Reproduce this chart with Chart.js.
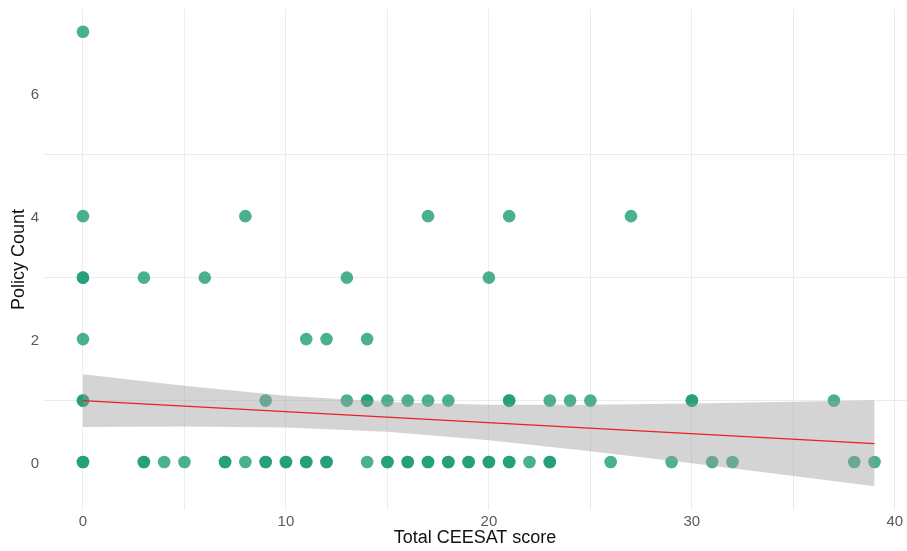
<!DOCTYPE html>
<html>
<head>
<meta charset="utf-8">
<title>Policy Count vs Total CEESAT score</title>
<script src="https://cdn.jsdelivr.net/npm/chart.js@4/dist/chart.umd.min.js"></script>
<style>
  html, body { margin: 0; padding: 0; background: #ffffff; }
  #wrap { width: 907px; height: 551px; position: relative; }
</style>
</head>
<body>
<div id="wrap"><canvas id="chart"></canvas></div>
<script>
// Observations grouped by policy count: each entry is one jurisdiction's CEESAT score
const scoresPolicy0 = [0, 0, 3, 3, 4, 5, 7, 7, 8, 9, 9, 10, 10, 11, 11, 12, 12, 14, 15, 15, 16, 16,
                       17, 17, 18, 18, 19, 19, 20, 20, 21, 21, 22, 23, 23, 26, 29, 31, 32, 38, 39];
const scoresPolicy1 = [0, 0, 9, 13, 14, 14, 15, 16, 17, 18, 21, 21, 23, 24, 25, 30, 30, 37];
const scoresPolicy2 = [0, 11, 12, 14];
const scoresPolicy3 = [0, 0, 3, 6, 13, 20];
const scoresPolicy4 = [0, 8, 17, 21, 27];
const scoresPolicy7 = [0];

// Linear fit and its 95% confidence band
const fitX = [0, 39];
const fitY = [1.00, 0.30];
const bandX = [0, 5, 10, 15, 20, 25, 30, 35, 39];
const bandUpper = [1.43, 1.24, 1.08, 0.975, 0.934, 0.934, 0.952, 0.98, 1.006];
const bandLower = [0.57, 0.58, 0.564, 0.491, 0.354, 0.176, -0.02, -0.226, -0.394];

// Axis ticks
const xTicks = [0, 5, 10, 15, 20, 25, 30, 35, 40];
const xLabelled = [0, 10, 20, 30, 40];
const yTicks = [0, 1, 2, 3, 4, 5, 6, 7];
const yLabelled = [0, 2, 4, 6];
const yGridShown = [1, 3, 5];

const groups = [[0, scoresPolicy0], [1, scoresPolicy1], [2, scoresPolicy2],
                [3, scoresPolicy3], [4, scoresPolicy4], [7, scoresPolicy7]];
const points = [];
groups.forEach(([count, scores]) => scores.forEach(s => points.push({ x: s, y: count })));

const fitPoints = fitX.map((x, i) => ({ x, y: fitY[i] }));
const upperPoints = bandX.map((x, i) => ({ x, y: bandUpper[i] }));
const lowerPoints = bandX.map((x, i) => ({ x, y: bandLower[i] }));

const FONT = "'Liberation Sans', Arial, Helvetica, sans-serif";

// keep the plot panel flush with the canvas edges (no room reserved for label overhang)
const noOverhang = s => { s.paddingLeft = 0; s.paddingRight = 0; s.paddingTop = 0; s.paddingBottom = 0; };

new Chart(document.getElementById('chart'), {
  type: 'scatter',
  data: {
    datasets: [
      {
        type: 'line', label: 'fit', data: fitPoints, order: 0,
        borderColor: 'rgb(235, 30, 35)', borderWidth: 1.3,
        pointRadius: 0, fill: false, tension: 0
      },
      {
        type: 'line', label: 'upper', data: upperPoints, order: 1,
        borderWidth: 0, borderColor: 'rgba(0,0,0,0)',
        backgroundColor: 'rgba(153,153,153,0.42)',
        pointRadius: 0, fill: '+1', tension: 0
      },
      {
        type: 'line', label: 'lower', data: lowerPoints, order: 2,
        borderWidth: 0, borderColor: 'rgba(0,0,0,0)',
        pointRadius: 0, fill: false, tension: 0
      },
      {
        label: 'Policy Count', data: points, order: 3,
        backgroundColor: 'rgba(27, 158, 119, 0.8)',
        borderWidth: 0, pointRadius: 6.3, pointHoverRadius: 6.3
      }
    ]
  },
  options: {
    responsive: true,
    maintainAspectRatio: false,
    animation: false,
    events: [],
    layout: { autoPadding: false, padding: { top: 9, right: 0, bottom: 0, left: 0 } },
    plugins: {
      legend: { display: false },
      tooltip: { enabled: false }
    },
    scales: {
      x: {
        type: 'linear', min: -1.97, max: 40.6,
        afterBuildTicks: s => { s.ticks = xTicks.map(v => ({ value: v })); },
        afterFit: s => { s.height = 41; noOverhang(s); },
        border: { display: false },
        grid: { color: '#ececec', lineWidth: 1, drawTicks: false },
        ticks: {
          autoSkip: false, maxRotation: 0, padding: 3,
          color: '#5a5a5a', font: { family: FONT, size: 15 },
          callback: v => xLabelled.includes(v) ? String(v) : ''
        },
        title: {
          display: true, text: 'Total CEESAT score',
          color: '#111111', font: { family: FONT, size: 18 },
          padding: { top: 0, bottom: 2 }
        }
      },
      y: {
        type: 'linear', min: -0.78, max: 7.37,
        afterBuildTicks: s => { s.ticks = yTicks.map(v => ({ value: v })); },
        afterFit: s => { s.width = 43; noOverhang(s); },
        border: { display: false },
        grid: {
          drawTicks: false, lineWidth: 1,
          color: ctx => yGridShown.includes(ctx.tick && ctx.tick.value) ? '#ececec' : 'rgba(0,0,0,0)'
        },
        ticks: {
          autoSkip: false, padding: 4, labelOffset: 2,
          color: '#5a5a5a', font: { family: FONT, size: 15 },
          callback: v => yLabelled.includes(v) ? String(v) : ''
        },
        title: {
          display: true, text: 'Policy Count',
          color: '#111111', font: { family: FONT, size: 18 },
          padding: { top: 8, bottom: 0 }
        }
      }
    }
  }
});
</script>
</body>
</html>
